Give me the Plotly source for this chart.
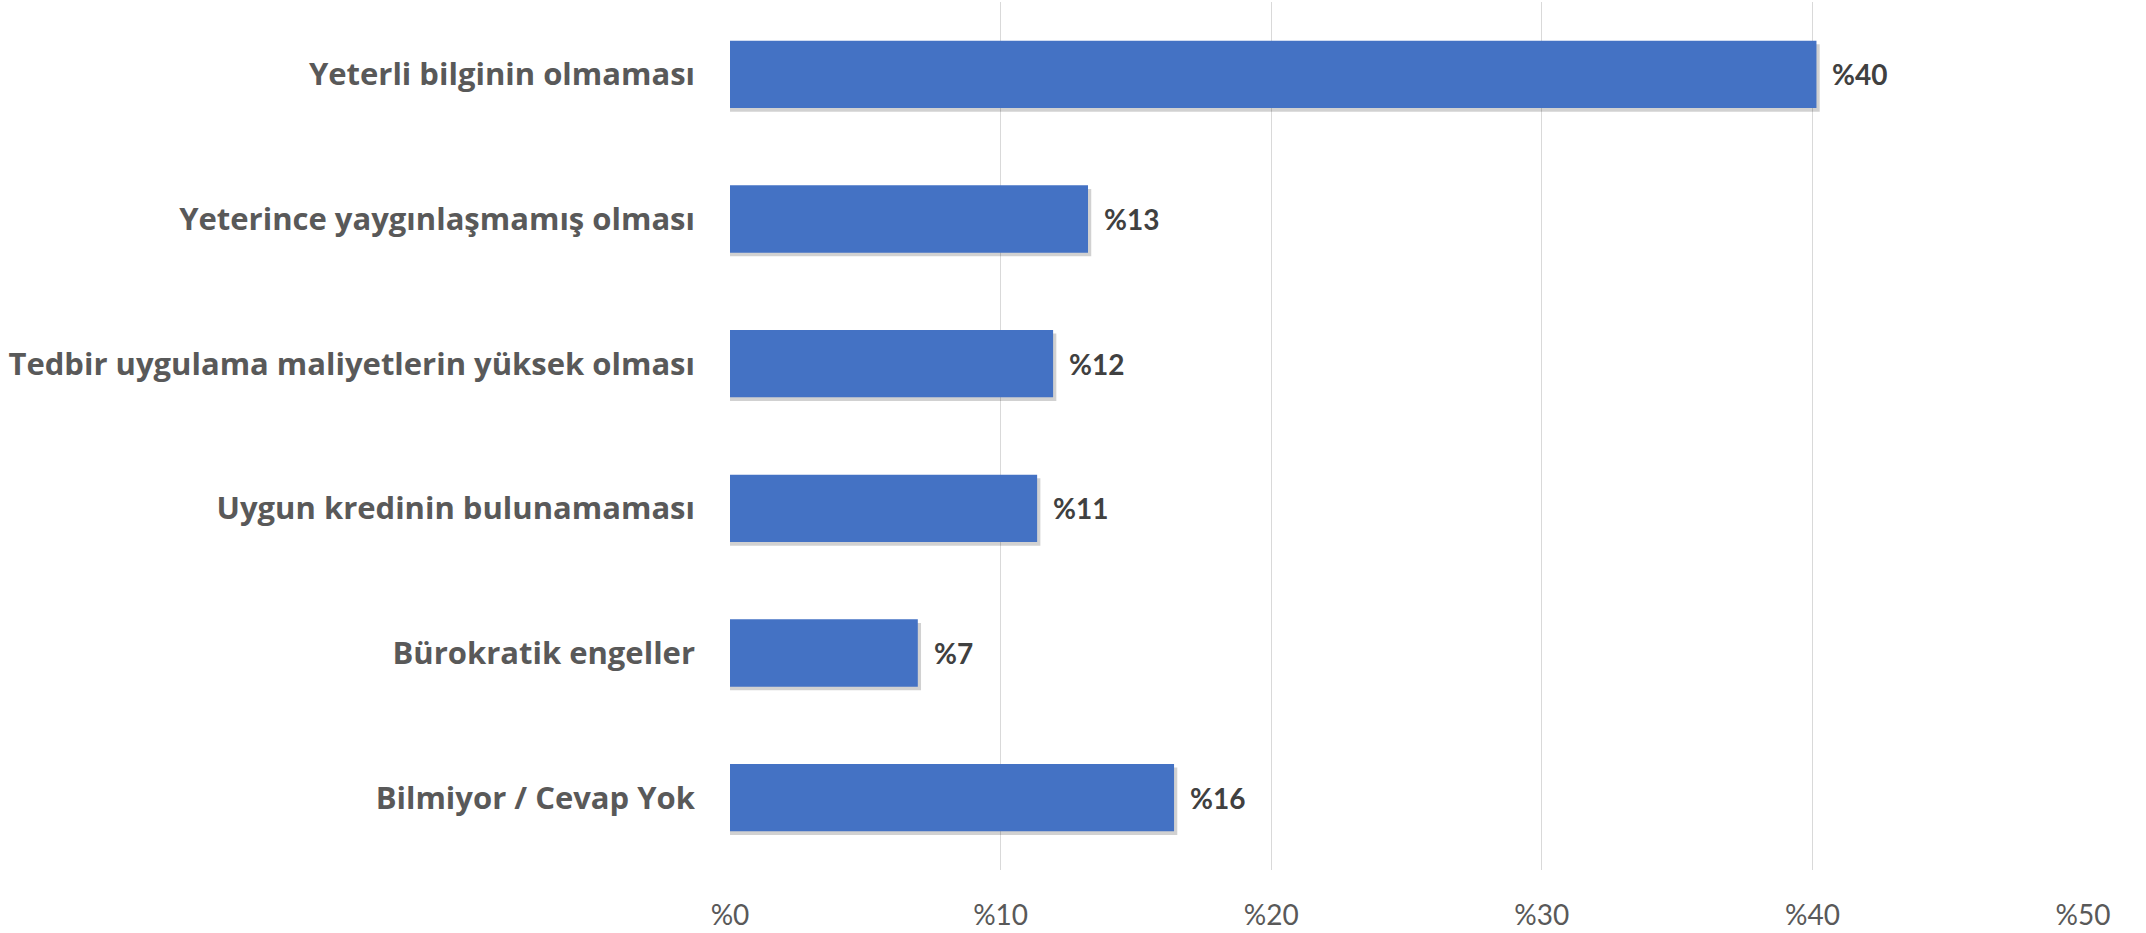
import plotly.graph_objects as go

# Tedbir uygulamasinin onundeki engeller (yuzde)
categories = [
    "Yeterli bilginin olmaması",
    "Yeterince yaygınlaşmamış olması",
    "Tedbir uygulama maliyetlerin yüksek olması",
    "Uygun kredinin bulunamaması",
    "Bürokratik engeller",
    "Bilmiyor / Cevap Yok",
]
values = [40.15, 13.23, 11.94, 11.35, 6.94, 16.41]
value_labels = ["%40", "%13", "%12", "%11", "%7", "%16"]

tick_vals = [0, 10, 20, 30, 40, 50]
tick_text = ["%0", "%10", "%20", "%30", "%40", "%50"]

FONT = "Lato"
BLUE = "#4472C4"
BAR_W = 0.466

fig = go.Figure()

# soft drop shadow, slightly down/right of each bar (Excel style)
fig.add_trace(go.Bar(
    x=[v + 0.12 for v in values],
    y=categories,
    orientation="h",
    width=BAR_W,
    offset=-BAR_W / 2 + 0.025,
    marker=dict(color="rgba(0,0,0,0.18)", line=dict(width=0)),
    hoverinfo="skip",
))
fig.add_trace(go.Bar(
    x=values,
    y=categories,
    orientation="h",
    width=BAR_W,
    offset=-BAR_W / 2,
    marker=dict(color=BLUE, line=dict(width=0)),
    hoverinfo="skip",
))

# data labels just right of each bar end
for cat, val, lab in zip(categories, values, value_labels):
    fig.add_annotation(
        x=val, y=cat, text="<b>" + lab + "</b>",
        xanchor="left", yanchor="middle", xshift=14, showarrow=False,
        font=dict(family=FONT, size=28, color="#404040"),
    )

fig.update_layout(
    width=2146, height=933,
    margin=dict(l=730, r=63, t=2, b=57),
    paper_bgcolor="white", plot_bgcolor="white",
    barmode="overlay",
    showlegend=False,
    font=dict(family=FONT),
)

fig.update_xaxes(
    range=[0, 50],
    tickvals=tick_vals, ticktext=tick_text,
    showgrid=True, gridcolor="#d9d9d9", gridwidth=1,
    zeroline=False, showline=False, ticks="",
    tickfont=dict(family=FONT, size=28, color="#595959"),
    ticklabelstandoff=26,
)
fig.update_yaxes(
    autorange="reversed",
    showgrid=False, zeroline=False, showline=False, ticks="",
    tickfont=dict(family="Open Sans", size=31, color="#595959", weight="bold"),
    ticklabelstandoff=34,
)

fig.write_html(
    "out.html",
    config={"displayModeBar": False},
    post_script="document.body.style.margin='0';",
)
